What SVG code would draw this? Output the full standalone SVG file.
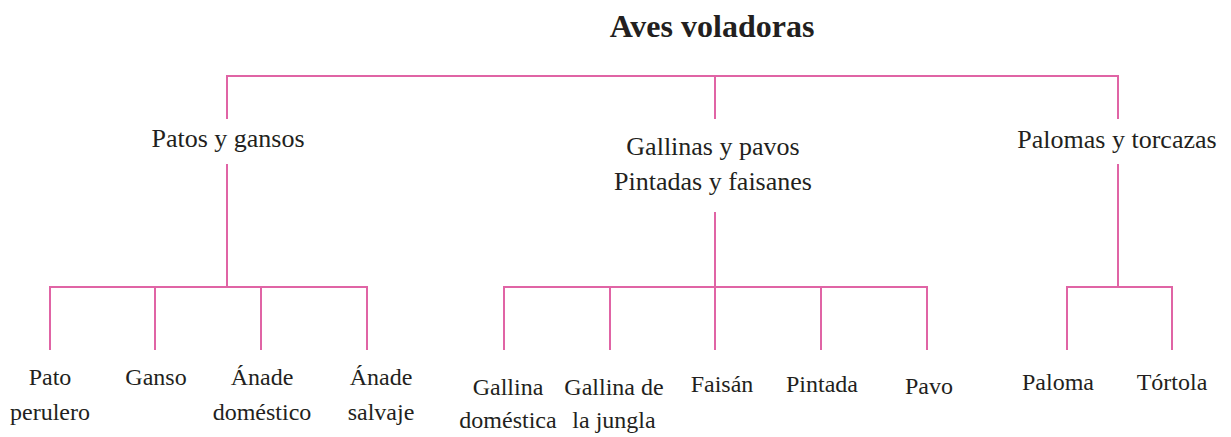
<svg xmlns="http://www.w3.org/2000/svg" width="1231" height="437" viewBox="0 0 1231 437">
<style>
.c{stroke:#e064a5;stroke-width:2;fill:none;stroke-linecap:square}
text{font-family:"Liberation Serif","Times New Roman",serif;fill:#231f20;text-anchor:middle}
.t{font-size:32px;font-weight:bold}
.m{font-size:26px}
.l{font-size:24px}
</style>
<rect width="1231" height="437" fill="#ffffff"/>
<g id="connectors">
<path class="c" d="M227 118V76H1118V118M715 76V118"/>
<path class="c" d="M227 165V287M50 349V287H367V349M155 287V349M261 287V349"/>
<path class="c" d="M715 213V287M504 349V287H927V349M610 287V349M715 287V349M821 287V349"/>
<path class="c" d="M1118 165V287M1067 349V287H1172V349"/>
</g>
<g id="root"><text class="t" x="712" y="37">Aves voladoras</text></g>
<g id="patos"><text class="m" x="228" y="147">Patos y gansos</text></g>
<g id="gallinas"><text class="m" x="713" y="155">Gallinas y pavos</text><text class="m" x="713" y="190">Pintadas y faisanes</text></g>
<g id="palomas"><text class="m" x="1117" y="148">Palomas y torcazas</text></g>
<g id="pato-perulero"><text class="l" x="50" y="385">Pato</text><text class="l" x="50" y="420">perulero</text></g>
<g id="ganso"><text class="l" x="156" y="385">Ganso</text></g>
<g id="anade-domestico"><text class="l" x="262" y="385">Ánade</text><text class="l" x="262" y="420">doméstico</text></g>
<g id="anade-salvaje"><text class="l" x="381" y="385">Ánade</text><text class="l" x="381" y="420">salvaje</text></g>
<g id="gallina-domestica"><text class="l" x="508" y="395">Gallina</text><text class="l" x="508" y="428">doméstica</text></g>
<g id="gallina-jungla"><text class="l" x="614" y="395">Gallina de</text><text class="l" x="614" y="428">la jungla</text></g>
<g id="faisan"><text class="l" x="722" y="392">Faisán</text></g>
<g id="pintada"><text class="l" x="822" y="392">Pintada</text></g>
<g id="pavo"><text class="l" x="929" y="394">Pavo</text></g>
<g id="paloma"><text class="l" x="1058" y="390">Paloma</text></g>
<g id="tortola"><text class="l" x="1172" y="390">Tórtola</text></g>
</svg>
